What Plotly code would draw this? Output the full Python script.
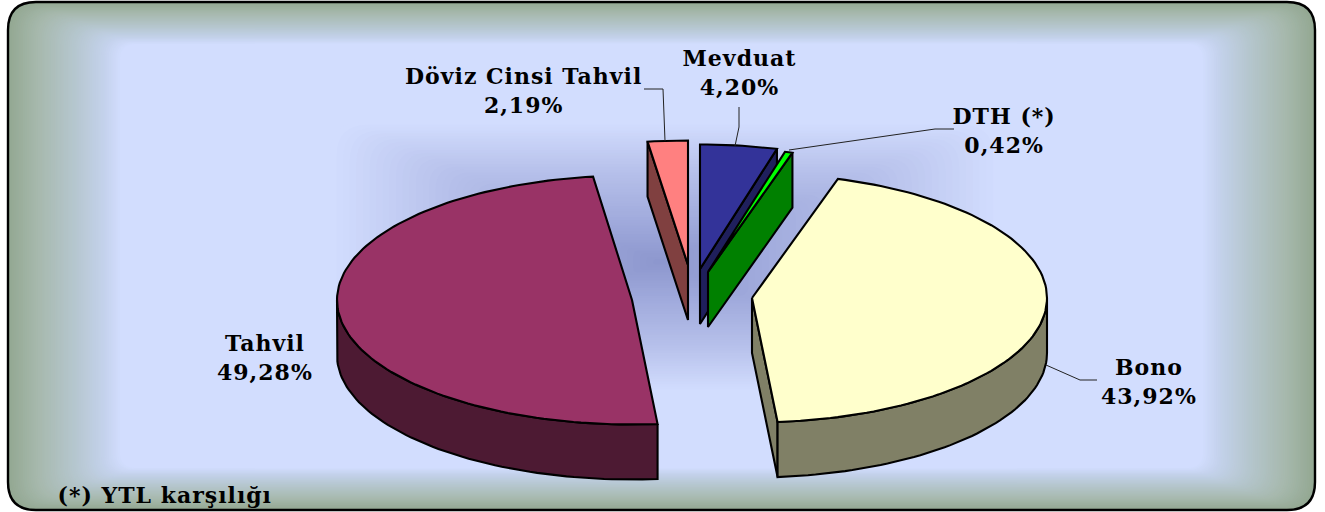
import math
import plotly.graph_objects as go

# ---- data (clockwise from 12 o'clock) ----
categories = ["Mevduat", "DTH (*)", "Bono", "Tahvil", "Döviz Cinsi Tahvil"]
shares = [4.20, 0.42, 43.92, 49.28, 2.19]
top_colors = ["#333399", "#00FF00", "#FFFFCC", "#993366", "#FF8080"]
side_colors = ["#1F1F5C", "#008000", "#808066", "#4D1A33", "#804040"]
draw_order = ["Döviz Cinsi Tahvil", "Mevduat", "DTH (*)", "Tahvil", "Bono"]
footnote = "(*) YTL karşılığı"

# ---- 3D pie projection (pixels) ----
W, H = 1325, 512
RX, RY, DEPTH = 295, 124.5, 55
ROT = {"Mevduat": 0.0, "DTH (*)": 0.0, "Bono": 0.3, "Tahvil": 0.3, "Döviz Cinsi Tahvil": 0.0}
# exploded centre of each slice on the top face
centres = {
    "Mevduat": (700, 269), "DTH (*)": (708, 272), "Bono": (752, 298),
    "Tahvil": (632, 300), "Döviz Cinsi Tahvil": (688, 265),
}
label_xy = {
    "Mevduat": (740, 72), "DTH (*)": (1004, 130), "Bono": (1149, 381),
    "Tahvil": (265, 357), "Döviz Cinsi Tahvil": (523, 90),
}
leaders = [
    [(644, 89), (663, 89), (665, 141)],
    [(739, 107), (739, 127), (735, 146)],
    [(954, 129), (935, 129), (789, 150)],
    [(1097, 380), (1080, 380), (1046, 365)],
]
FONT = "DejaVu Serif"
FS = 22

total = sum(shares)
spans = {}
acc = 0.0
for c, s in zip(categories, shares):
    a0 = acc / total * 360 + ROT[c]
    acc += s
    spans[c] = (a0, acc / total * 360 + ROT[c])


def pt(c, a, dz=0.0):
    cx, cy = centres[c]
    r = math.radians(a)
    return cx + RX * math.sin(r), cy - RY * math.cos(r) + dz


def arc(c, a0, a1, dz=0.0):
    n = max(2, int(abs(a1 - a0) / 1.5) + 2)
    return [pt(c, a0 + (a1 - a0) * i / (n - 1), dz) for i in range(n)]


def poly(points, color, width=2.1):
    xs = [p[0] for p in points] + [points[0][0]]
    ys = [p[1] for p in points] + [points[0][1]]
    return go.Scatter(x=xs, y=ys, mode="lines", fill="toself", fillcolor=color,
                      line=dict(color="#000000", width=width),
                      hoverinfo="skip", showlegend=False)


fig = go.Figure()

for name in draw_order:
    i = categories.index(name)
    a0, a1 = spans[name]
    apex = centres[name]
    # visible cut walls
    if math.sin(math.radians(a0)) < -1e-6:
        e = pt(name, a0)
        fig.add_trace(poly([apex, e, (e[0], e[1] + DEPTH), (apex[0], apex[1] + DEPTH)], side_colors[i]))
    if math.sin(math.radians(a1)) > 1e-6:
        e = pt(name, a1)
        fig.add_trace(poly([apex, e, (e[0], e[1] + DEPTH), (apex[0], apex[1] + DEPTH)], side_colors[i]))
    # outer rim
    r0, r1 = max(a0, 90), min(a1, 270)
    if r1 > r0:
        fig.add_trace(poly(arc(name, r0, r1) + arc(name, r1, r0, DEPTH), side_colors[i]))
    # top face
    fig.add_trace(poly([apex] + arc(name, a0, a1), top_colors[i]))


# ---- background as nested shapes ----
def rrect(x0, y0, x1, y1, r):
    return (f"M{x0+r},{y0} L{x1-r},{y0} Q{x1},{y0} {x1},{y0+r} L{x1},{y1-r} Q{x1},{y1} {x1-r},{y1} "
            f"L{x0+r},{y1} Q{x0},{y1} {x0},{y1-r} L{x0},{y0+r} Q{x0},{y0} {x0+r},{y0} Z")


def mix(stops, t):
    for (t0, c0), (t1, c1) in zip(stops, stops[1:]):
        if t <= t1:
            k = (t - t0) / (t1 - t0)
            return "rgb(%d,%d,%d)" % tuple(round(u + (v - u) * k) for u, v in zip(c0, c1))
    return "rgb(%d,%d,%d)" % stops[-1][1]


shapes = []
frame_stops = [(0, (147, 168, 146)), (0.25, (166, 184, 172)), (0.6, (182, 199, 208)),
               (0.85, (196, 210, 236)), (1, (210, 221, 254))]
X0, Y0, X1, Y1 = 8, 2, 1315, 510
N = 60
for k in range(N + 1):
    t = k / N
    ix, iy = 112 * t, 42 * t
    r = 28 - 12 * t
    path = rrect(X0 + ix, Y0 + iy, X1 - ix, Y1 - iy, r)
    shapes.append(dict(type="path", path=path, fillcolor=mix(frame_stops, t), line_width=0, layer="below",
                       xref="x", yref="y"))

glow_stops = [(0, (210, 221, 254)), (0.35, (182, 192, 234)), (0.7, (160, 170, 220)), (1, (140, 150, 205))]
GL, GR, GT, GB, GCX, GCY = 330, 1000, 122, 392, 660, 262
M = 50
for k in range(M):
    t = k / M
    x0, x1 = GL + (GCX - GL) * t, GR - (GR - GCX) * t
    y0, y1 = GT + (GCY - GT) * t, GB - (GB - GCY) * t
    shapes.append(dict(type="path", path=rrect(x0, y0, x1, y1, 30 * (1 - t) + 2), fillcolor=mix(glow_stops, t),
                       line_width=0, layer="below", xref="x", yref="y"))

shapes.append(dict(type="path", path=rrect(X0, Y0, X1, Y1, 28), fillcolor="rgba(0,0,0,0)",
                   line=dict(color="#000000", width=2.4), layer="below", xref="x", yref="y"))

# ---- leader lines ----
for pts in leaders:
    fig.add_trace(go.Scatter(x=[p[0] for p in pts], y=[p[1] for p in pts], mode="lines",
                             line=dict(color="#222222", width=1), hoverinfo="skip", showlegend=False))

# ---- labels ----
annotations = []
for c, s in zip(categories, shares):
    x, y = label_xy[c]
    txt = f"{c}<br>{s:.2f}".replace(".", ",") + "%"
    annotations.append(dict(x=x, y=y, text=txt, showarrow=False, xref="x", yref="y", align="center",
                            xanchor="center", yanchor="middle",
                            font=dict(family=FONT, size=FS, color="#000000", weight="bold")))
annotations.append(dict(x=64, y=495, text=footnote, showarrow=False, xref="x", yref="y", xanchor="left",
                        yanchor="middle", font=dict(family=FONT, size=FS, color="#000000", weight="bold")))

fig.update_layout(
    width=W, height=H, margin=dict(l=0, r=0, t=0, b=0),
    paper_bgcolor="#FFFFFF", plot_bgcolor="#FFFFFF",
    xaxis=dict(range=[0, W], visible=False, fixedrange=True),
    yaxis=dict(range=[H, 0], visible=False, fixedrange=True),
    shapes=shapes, annotations=annotations, showlegend=False,
)
fig.write_html("out.html", config={"displayModeBar": False},
               post_script="document.body.style.margin='0';document.body.style.overflow='hidden';"
                           "document.querySelectorAll('.annotation-text').forEach(function(t){t.style.letterSpacing='1px';});")
